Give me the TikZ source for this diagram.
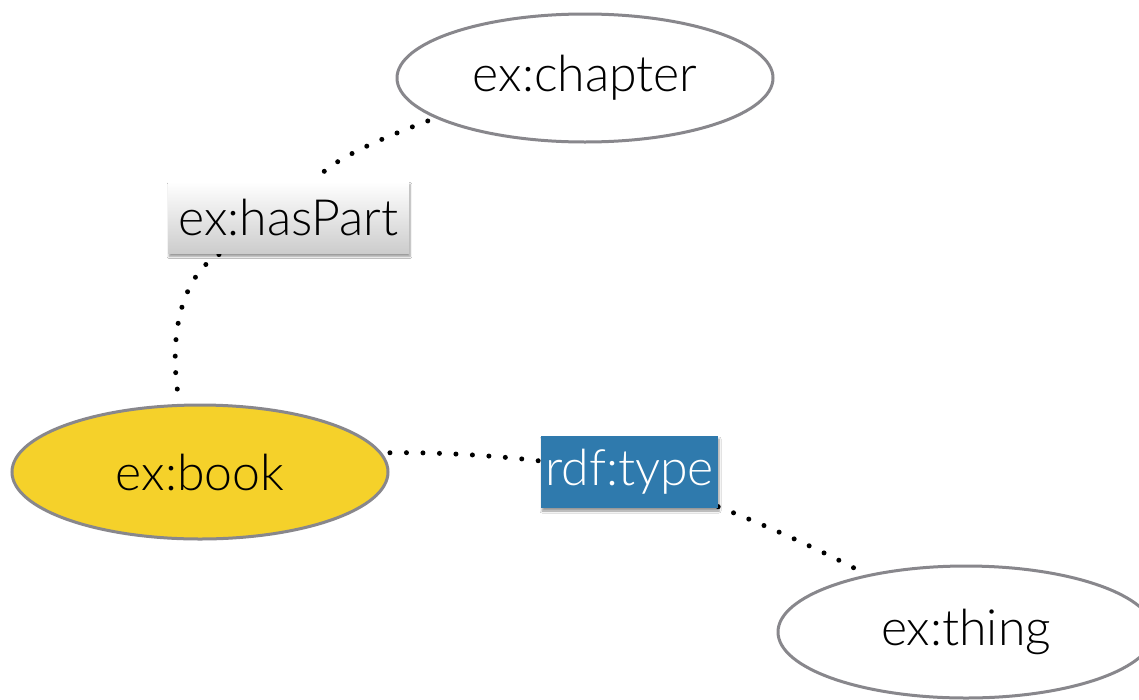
\documentclass[tikz,border=0pt]{standalone}
\usepackage{fontspec}
\setmainfont{Lato Light}
\usetikzlibrary{shapes.geometric,shadows.blur}
\pgfdeclarelayer{bg}
\pgfsetlayers{bg,main}
\definecolor{edgegray}{HTML}{88878C}
\definecolor{bookyellow}{HTML}{F5D12A}
\definecolor{typeblue}{HTML}{2F7AAD}
\tikzset{
  res/.style={ellipse, draw=edgegray, line width=3pt, minimum width=376pt, minimum height=128pt, inner sep=0pt, font=\fontsize{50}{58}\selectfont},
  prop/.style={rectangle, inner sep=0pt, minimum height=72pt, font=\fontsize{50}{58}\selectfont, blur shadow={shadow xshift=1pt, shadow yshift=-3pt, shadow blur steps=5, shadow opacity=40}},
  dots/.style={line width=5pt, line cap=round, dash pattern=on 0pt off 16.5pt, black}
}
\begin{document}
\begin{tikzpicture}[x=1pt,y=-1pt]
\useasboundingbox (0,0) rectangle (1139,699);
\node[res, fill=white] (chapter) at (585,78) {ex:chapter};
\node[res, fill=bookyellow, minimum height=134pt] (book) at (200,472) {ex:book};
\node[res, fill=white, minimum height=132pt] (thing) at (966,632) {ex:thing};
\node[prop, minimum width=241pt, top color=white, bottom color=black!20] (haspart) at (288.5,217.5) {ex:hasPart};
\node[prop, minimum width=177pt, fill=typeblue, text=white] (type) at (629.5,472) {rdf:type};
\begin{pgfonlayer}{bg}
\fill[white] (0,0) rectangle (1139,699);
\draw[dots, shorten <=8pt] (chapter.195) .. controls (380,139) and (330,160) .. (haspart);
\draw[dots, shorten <=15pt] (book.107.6) .. controls (169,325) and (186,272) .. (haspart);
\draw[dots, shorten <=8pt] (book.6) .. controls (440,452) and (500,456) .. (type);
\draw[dots, shorten >=9pt] (type) .. controls (770,527) and (820,550) .. (thing.150);
\end{pgfonlayer}
\end{tikzpicture}
\end{document}
